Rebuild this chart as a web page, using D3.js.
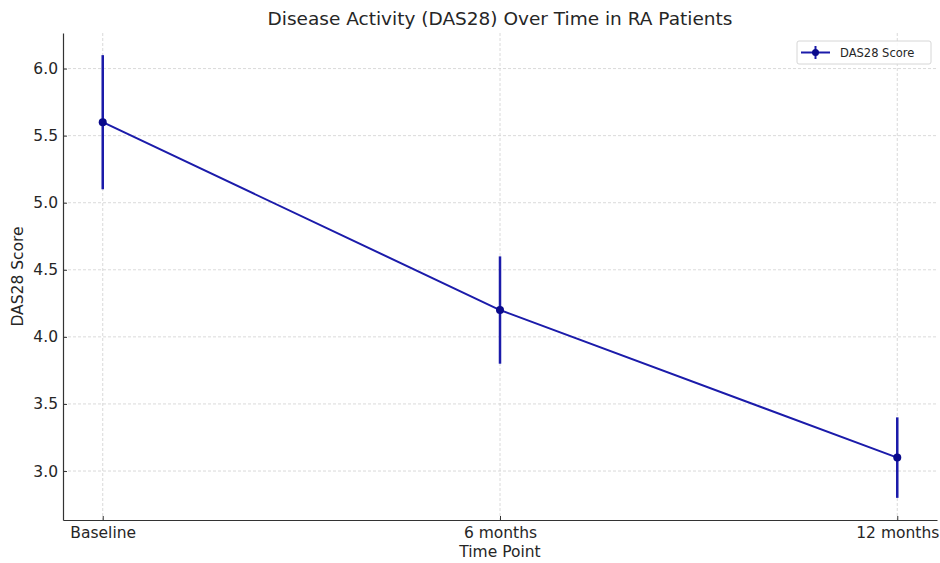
<!DOCTYPE html>
<html>
<head>
<meta charset="utf-8">
<script src="https://cdn.jsdelivr.net/npm/d3@7"></script>
<style>
  body { margin: 0; background: #fff; }
  text { font-family: "DejaVu Sans", sans-serif; fill: #262626; }
</style>
</head>
<body>
<svg id="chart" width="940" height="563"></svg>
<script>
// chart data
const timePoints = ["Baseline", "6 months", "12 months"];
const das28Mean = [5.6, 4.2, 3.1];
const das28Err = [0.5, 0.4, 0.3];
const yTicks = [3.0, 3.5, 4.0, 4.5, 5.0, 5.5, 6.0];

const width = 940, height = 563;
const margin = { top: 33, right: 3, bottom: 43, left: 63 };
const svg = d3.select("#chart");

const lineColor = "#1b1baa";
const markerColor = "#0a0a8c";

// x positions as index, matplotlib style padding
const x = d3.scaleLinear()
    .domain([-0.1, timePoints.length - 1 + 0.1])
    .range([margin.left, width - margin.right]);

const lows = das28Mean.map((d, i) => d - das28Err[i]);
const highs = das28Mean.map((d, i) => d + das28Err[i]);
const yMin = d3.min(lows), yMax = d3.max(highs);
const pad = (yMax - yMin) * 0.05;
const y = d3.scaleLinear()
    .domain([yMin - pad, yMax + pad])
    .range([height - margin.bottom, margin.top]);

// grid lines
const grid = svg.append("g");
grid.selectAll(".hgrid").data(yTicks).enter().append("line")
    .attr("x1", margin.left).attr("x2", width - margin.right)
    .attr("y1", d => y(d)).attr("y2", d => y(d))
    .attr("stroke", "#d0d0d0").attr("stroke-width", 0.8)
    .attr("stroke-dasharray", "3,2");
grid.selectAll(".vgrid").data(timePoints).enter().append("line")
    .attr("x1", (d, i) => x(i)).attr("x2", (d, i) => x(i))
    .attr("y1", margin.top).attr("y2", height - margin.bottom)
    .attr("stroke", "#d0d0d0").attr("stroke-width", 0.8)
    .attr("stroke-dasharray", "3,2");

// axes (ticks point inward)
const xAxis = d3.axisBottom(x)
    .tickValues(d3.range(timePoints.length))
    .tickFormat(i => timePoints[i])
    .tickSizeInner(-4).tickSizeOuter(0).tickPadding(6);
const yAxis = d3.axisLeft(y)
    .tickValues(yTicks)
    .tickFormat(d3.format(".1f"))
    .tickSizeInner(-4).tickSizeOuter(0).tickPadding(6);

const gx = svg.append("g")
    .attr("transform", `translate(0,${height - margin.bottom})`)
    .call(xAxis);
const gy = svg.append("g")
    .attr("transform", `translate(${margin.left},0)`)
    .call(yAxis);

[gx, gy].forEach(g => {
    g.select(".domain").attr("stroke", "#333").attr("stroke-width", 1.2);
    g.selectAll(".tick line").attr("stroke", "#333");
    g.selectAll(".tick text").attr("font-size", 15.5).style("font-family", "DejaVu Sans, sans-serif").attr("fill", "#262626");
});
gx.selectAll(".tick text").attr("y", 6).attr("dy", "0.8em");
gy.selectAll(".tick text").attr("x", -5);

// error bars
svg.append("g").selectAll("line").data(das28Mean).enter().append("line")
    .attr("x1", (d, i) => x(i)).attr("x2", (d, i) => x(i))
    .attr("y1", (d, i) => y(lows[i])).attr("y2", (d, i) => y(highs[i]))
    .attr("stroke", lineColor).attr("stroke-width", 2.5);

// line
const line = d3.line()
    .x((d, i) => x(i))
    .y(d => y(d));
svg.append("path").datum(das28Mean)
    .attr("d", line)
    .attr("fill", "none")
    .attr("stroke", lineColor)
    .attr("stroke-width", 2);

// markers
svg.append("g").selectAll("circle").data(das28Mean).enter().append("circle")
    .attr("cx", (d, i) => x(i)).attr("cy", d => y(d))
    .attr("r", 4).attr("fill", markerColor);

// title and labels
svg.append("text")
    .attr("x", (margin.left + width - margin.right) / 2).attr("y", 25)
    .attr("text-anchor", "middle").attr("font-size", 18.5)
    .text("Disease Activity (DAS28) Over Time in RA Patients");
svg.append("text")
    .attr("x", (margin.left + width - margin.right) / 2).attr("y", 557)
    .attr("text-anchor", "middle").attr("font-size", 15.5)
    .text("Time Point");
svg.append("text")
    .attr("transform", `translate(23,${(margin.top + height - margin.bottom) / 2}) rotate(-90)`)
    .attr("text-anchor", "middle").attr("font-size", 15.5)
    .text("DAS28 Score");

// legend
const lg = svg.append("g").attr("transform", "translate(797,41)");
lg.append("rect")
    .attr("width", 134).attr("height", 23).attr("rx", 2)
    .attr("fill", "#fff").attr("fill-opacity", 0.85)
    .attr("stroke", "#d6d6d6");
lg.append("line")
    .attr("x1", 4).attr("x2", 33).attr("y1", 11.5).attr("y2", 11.5)
    .attr("stroke", lineColor).attr("stroke-width", 2);
lg.append("line")
    .attr("x1", 18.5).attr("x2", 18.5).attr("y1", 5).attr("y2", 18)
    .attr("stroke", lineColor).attr("stroke-width", 2);
lg.append("circle")
    .attr("cx", 18.5).attr("cy", 11.5).attr("r", 3.5).attr("fill", markerColor);
lg.append("text")
    .attr("x", 43).attr("y", 16).attr("font-size", 11.5)
    .text("DAS28 Score");
</script>
</body>
</html>
